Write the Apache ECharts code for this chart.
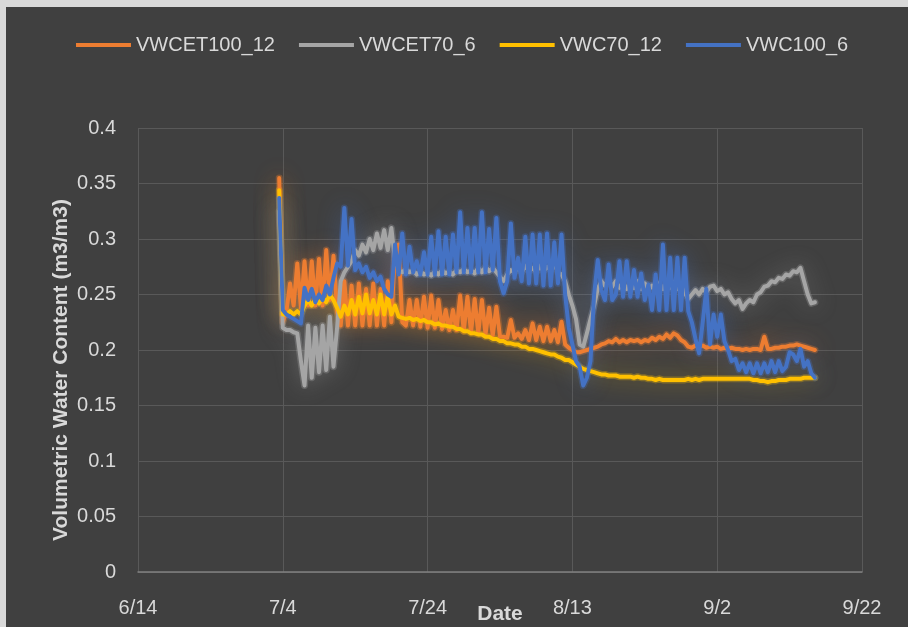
<!DOCTYPE html>
<html>
<head>
<meta charset="utf-8">
<script src="https://cdn.jsdelivr.net/npm/echarts@6/dist/echarts.min.js"></script>
<style>
  html, body { margin: 0; padding: 0; background: #d9d9d9; }
  #chart { position: absolute; left: 6px; top: 7px; width: 902px; height: 620px; background: #404040; }
</style>
</head>
<body>
<div id="chart"></div>
<script>
// Readings every half day, first one on 7/3 at noon (day 19.5 counted from 6/14)
const startDay = 19.5;
const stepDay = 0.5;

const xLabels = ['6/14', '7/4', '7/24', '8/13', '9/2', '9/22'];
const seriesNames = ['VWCET100_12', 'VWCET70_6', 'VWC70_12', 'VWC100_6'];
const seriesColors = ['#ED7D31', '#A5A5A5', '#FFC000', '#4472C4'];

const vwcet100_12 = [
    0.355, 0.225, 0.235, 0.260, 0.240, 0.278, 0.238, 0.280, 0.240, 0.280,
    0.240, 0.282, 0.240, 0.290, 0.245, 0.285, 0.235, 0.222, 0.262, 0.222,
    0.258, 0.222, 0.260, 0.222, 0.255, 0.222, 0.260, 0.222, 0.255, 0.222,
    0.262, 0.225, 0.290, 0.295, 0.225, 0.222, 0.245, 0.222, 0.245, 0.221,
    0.248, 0.220, 0.249, 0.220, 0.245, 0.219, 0.236, 0.218, 0.236, 0.218,
    0.249, 0.217, 0.248, 0.216, 0.246, 0.215, 0.245, 0.214, 0.238, 0.213,
    0.239, 0.212, 0.212, 0.211, 0.227, 0.211, 0.215, 0.210, 0.218, 0.209,
    0.224, 0.209, 0.221, 0.208, 0.221, 0.208, 0.218, 0.207, 0.2255, 0.205,
    0.202, 0.200, 0.198, 0.198, 0.199, 0.200, 0.201, 0.202, 0.203, 0.205,
    0.206, 0.208, 0.207, 0.210, 0.207, 0.209, 0.207, 0.209, 0.208, 0.209,
    0.207, 0.209, 0.208, 0.211, 0.209, 0.212, 0.210, 0.214, 0.211, 0.215,
    0.213, 0.209, 0.207, 0.203, 0.202, 0.204, 0.203, 0.204, 0.202, 0.203,
    0.202, 0.203, 0.201, 0.202, 0.201, 0.202, 0.201, 0.201, 0.200, 0.201,
    0.200, 0.201, 0.201, 0.200, 0.212, 0.201, 0.201, 0.202, 0.202, 0.203,
    0.203, 0.204, 0.204, 0.205, 0.204, 0.203, 0.202, 0.201, 0.200
];

const vwcet70_6 = [
    0.325, 0.220, 0.218, 0.218, 0.216, 0.215, 0.190, 0.168, 0.222, 0.175,
    0.220, 0.180, 0.222, 0.182, 0.230, 0.185, 0.220, 0.262, 0.270, 0.275,
    0.280, 0.290, 0.285, 0.295, 0.288, 0.300, 0.290, 0.305, 0.292, 0.308,
    0.290, 0.310, 0.280, 0.272, 0.270, 0.273, 0.270, 0.272, 0.268, 0.271,
    0.268, 0.270, 0.267, 0.271, 0.268, 0.272, 0.269, 0.271, 0.268, 0.272,
    0.270, 0.273, 0.270, 0.272, 0.269, 0.274, 0.270, 0.275, 0.271, 0.274,
    0.270, 0.266, 0.262, 0.268, 0.272, 0.270, 0.275, 0.270, 0.276, 0.271,
    0.274, 0.270, 0.276, 0.271, 0.275, 0.272, 0.278, 0.270, 0.268, 0.262,
    0.250, 0.240, 0.228, 0.205, 0.203, 0.215, 0.228, 0.240, 0.255, 0.262,
    0.258, 0.263, 0.257, 0.262, 0.256, 0.261, 0.255, 0.260, 0.256, 0.262,
    0.255, 0.260, 0.254, 0.258, 0.253, 0.260, 0.255, 0.262, 0.256, 0.261,
    0.255, 0.260, 0.252, 0.246, 0.250, 0.254, 0.250, 0.255, 0.252, 0.257,
    0.258, 0.253, 0.255, 0.250, 0.252, 0.246, 0.242, 0.245, 0.237, 0.242,
    0.245, 0.243, 0.250, 0.252, 0.257, 0.258, 0.262, 0.261, 0.265, 0.264,
    0.268, 0.267, 0.271, 0.270, 0.274, 0.262, 0.250, 0.242, 0.243
];

const vwc70_12 = [
    0.344, 0.232, 0.232, 0.235, 0.232, 0.235, 0.232, 0.240, 0.245, 0.240,
    0.246, 0.242, 0.247, 0.243, 0.250, 0.245, 0.238, 0.230, 0.240, 0.232,
    0.245, 0.232, 0.248, 0.233, 0.250, 0.233, 0.245, 0.232, 0.250, 0.232,
    0.248, 0.232, 0.240, 0.230, 0.229, 0.228, 0.229, 0.227, 0.228, 0.226,
    0.227, 0.225, 0.225, 0.223, 0.224, 0.222, 0.222, 0.221, 0.221, 0.219,
    0.219, 0.217, 0.217, 0.215, 0.215, 0.214, 0.214, 0.212, 0.212, 0.210,
    0.210, 0.208, 0.208, 0.206, 0.206, 0.205, 0.205, 0.203, 0.203, 0.201,
    0.201, 0.200, 0.199, 0.198, 0.197, 0.196, 0.196, 0.194, 0.193, 0.191,
    0.191, 0.189, 0.187, 0.185, 0.183, 0.182, 0.181, 0.180, 0.179, 0.178,
    0.178, 0.177, 0.177, 0.177, 0.176, 0.176, 0.176, 0.176, 0.175, 0.176,
    0.175, 0.175, 0.174, 0.174, 0.173, 0.174, 0.173, 0.173, 0.173, 0.173,
    0.173, 0.173, 0.173, 0.174, 0.173, 0.174, 0.173, 0.174, 0.174, 0.174,
    0.174, 0.174, 0.174, 0.174, 0.174, 0.174, 0.174, 0.174, 0.174, 0.174,
    0.174, 0.173, 0.173, 0.172, 0.172, 0.171, 0.172, 0.172, 0.173, 0.173,
    0.173, 0.174, 0.174, 0.174, 0.174, 0.175, 0.175, 0.175, 0.175
];

const vwc100_6 = [
    0.337, 0.236, 0.232, 0.230, 0.228, 0.226, 0.224, 0.256, 0.245, 0.255,
    0.243, 0.250, 0.245, 0.258, 0.250, 0.265, 0.278, 0.275, 0.328, 0.276,
    0.318, 0.272, 0.278, 0.270, 0.275, 0.265, 0.270, 0.262, 0.266, 0.255,
    0.250, 0.248, 0.295, 0.268, 0.305, 0.268, 0.293, 0.270, 0.280, 0.268,
    0.288, 0.268, 0.302, 0.268, 0.307, 0.268, 0.302, 0.268, 0.304, 0.270,
    0.324, 0.270, 0.310, 0.270, 0.310, 0.270, 0.324, 0.270, 0.309, 0.272,
    0.319, 0.262, 0.251, 0.262, 0.314, 0.265, 0.283, 0.262, 0.302, 0.260,
    0.304, 0.260, 0.304, 0.258, 0.305, 0.258, 0.297, 0.260, 0.304, 0.250,
    0.220, 0.205, 0.190, 0.185, 0.168, 0.175, 0.190, 0.250, 0.281, 0.254,
    0.245, 0.277, 0.245, 0.250, 0.280, 0.248, 0.280, 0.248, 0.272, 0.248,
    0.269, 0.245, 0.259, 0.236, 0.268, 0.236, 0.295, 0.236, 0.283, 0.236,
    0.283, 0.236, 0.283, 0.235, 0.225, 0.210, 0.197, 0.225, 0.255, 0.205,
    0.232, 0.212, 0.232, 0.208, 0.200, 0.190, 0.192, 0.182, 0.188, 0.180,
    0.188, 0.179, 0.188, 0.179, 0.188, 0.180, 0.190, 0.180, 0.190, 0.181,
    0.185, 0.198, 0.196, 0.190, 0.201, 0.185, 0.190, 0.179, 0.175
];

const seriesValues = [vwcet100_12, vwcet70_6, vwc70_12, vwc100_6];

function toPoints(values) {
    return values.map((v, i) => [startDay + i * stepDay, v]);
}

const textColor = '#d9d9d9';
const fontFamily = '"Liberation Sans", Arial, sans-serif';

// soft halo drawn under every line (the glow effect of the original)
const glowSeries = seriesNames.map((name, k) => ({
    name: name + ' glow',
    type: 'line',
    showSymbol: false,
    symbol: 'none',
    silent: true,
    z: 1,
    lineStyle: {
        width: 7,
        color: seriesColors[k],
        opacity: 0.3,
        join: 'round',
        cap: 'round',
        shadowColor: seriesColors[k],
        shadowBlur: 22
    },
    data: toPoints(seriesValues[k])
}));

const lineSeries = seriesNames.map((name, k) => ({
    name: name,
    type: 'line',
    showSymbol: false,
    symbol: 'none',
    z: 3,
    color: seriesColors[k],
    lineStyle: {
        width: 4,
        color: seriesColors[k],
        join: 'round',
        cap: 'round'
    },
    data: toPoints(seriesValues[k])
}));

const chart = echarts.init(document.getElementById('chart'));

chart.setOption({
    backgroundColor: '#404040',
    animation: false,
    textStyle: { fontFamily: fontFamily },
    legend: {
        left: 70,
        top: 28,
        padding: 0,
        itemGap: 24,
        itemWidth: 55,
        itemHeight: 4,
        icon: 'rect',
        textStyle: { color: textColor, fontSize: 20, fontFamily: fontFamily },
        data: seriesNames
    },
    grid: {
        left: 132,
        top: 121,
        width: 724,
        height: 444,
        outerBoundsMode: 'none'
    },
    xAxis: {
        type: 'value',
        min: 0,
        max: 100,
        interval: 20,
        axisLine: { show: true, lineStyle: { color: '#808080', width: 1.5 } },
        axisTick: { show: false },
        axisLabel: {
            color: textColor,
            fontSize: 20,
            margin: 26,
            formatter: v => xLabels[Math.round(v / 20)]
        },
        splitLine: { show: true, lineStyle: { color: '#595959', width: 1 } }
    },
    yAxis: {
        type: 'value',
        min: 0,
        max: 0.4,
        interval: 0.05,
        axisLine: { show: false },
        axisTick: { show: false },
        axisLabel: {
            color: textColor,
            fontSize: 20,
            margin: 22,
            formatter: v => String(Math.round(v * 100) / 100)
        },
        splitLine: { show: true, lineStyle: { color: '#595959', width: 1 } }
    },
    graphic: [{
        type: 'text',
        x: 55,
        y: 363,
        rotation: Math.PI / 2,
        style: {
            text: 'Volumetric Water Content (m3/m3)',
            fill: textColor,
            font: 'bold 21px "Liberation Sans", Arial, sans-serif',
            textAlign: 'center',
            textVerticalAlign: 'middle'
        }
    }, {
        type: 'text',
        x: 494,
        y: 607,
        style: {
            text: 'Date',
            fill: textColor,
            font: 'bold 21px "Liberation Sans", Arial, sans-serif',
            textAlign: 'center',
            textVerticalAlign: 'middle'
        }
    }],
    series: glowSeries.concat(lineSeries)
});
</script>
</body>
</html>
